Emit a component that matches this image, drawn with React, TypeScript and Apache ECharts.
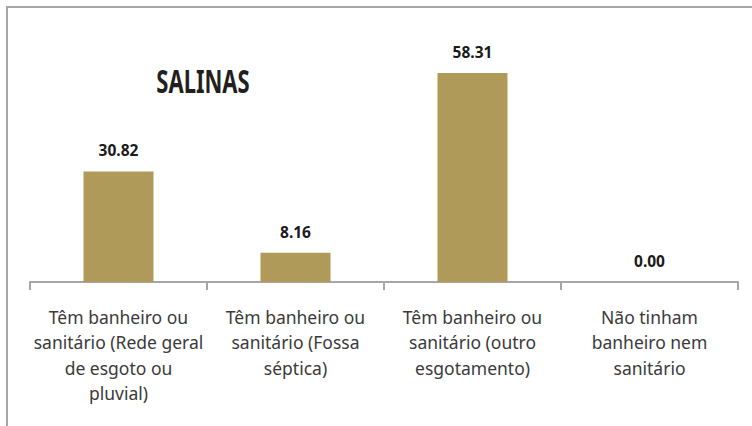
import React, { useEffect, useRef } from "react";
import * as echarts from "echarts";

const categories = [
  "Têm banheiro ou\nsanitário (Rede geral\nde esgoto ou\npluvial)",
  "Têm banheiro ou\nsanitário (Fossa\nséptica)",
  "Têm banheiro ou\nsanitário (outro\nesgotamento)",
  "Não tinham\nbanheiro nem\nsanitário",
];
const values = [30.82, 8.16, 58.31, 0.0];
const title = "SALINAS";

export default function App() {
  const ref = useRef<HTMLDivElement>(null);
  useEffect(() => {
    if (!ref.current) return;
    const chart = echarts.init(ref.current, undefined, { renderer: "svg" });
    chart.setOption({
      animation: false,
      backgroundColor: "#ffffff",
      grid: { left: 30, right: 14, top: 31, bottom: 144, containLabel: false },
      graphic: [
        {
          type: "rect",
          shape: { x: 7, y: 7, width: 800, height: 500 },
          style: { fill: "none", stroke: "#a6a6a6", lineWidth: 2 },
          silent: true,
        },
        {
          type: "text",
          x: 203,
          y: 80.5,
          scaleY: 1.5,
          style: {
            text: title,
            fontFamily: "Noto Sans",
            fontWeight: "bold",
            fontSize: 22,
            fill: "#231f20",
            textAlign: "center",
            textVerticalAlign: "middle",
          },
        },
      ],
      xAxis: {
        type: "category",
        data: categories,
        axisLine: { show: true, lineStyle: { color: "#a6a6a6", width: 2 } },
        axisTick: { show: true, length: 8, lineStyle: { color: "#a6a6a6", width: 2 } },
        axisLabel: {
          interval: 0,
          margin: 22,
          fontFamily: "Noto Sans",
          fontSize: 17.5,
          lineHeight: 25.5,
          color: "#3a3a3a",
          align: "center",
        },
      },
      yAxis: {
        type: "value",
        min: 0,
        max: 70,
        show: false,
        splitLine: { show: false },
      },
      series: [
        {
          type: "bar",
          data: values,
          barWidth: 70,
          itemStyle: { color: "#b09a5a" },
          label: {
            show: true,
            position: "top",
            distance: 13,
            fontFamily: "Noto Sans",
            fontWeight: "bold",
            fontSize: 15.5,
            color: "#1a1a1a",
            formatter: (p: any) => Number(p.value).toFixed(2),
          },
        },
      ],
    });
    return () => chart.dispose();
  }, []);
  return (
    <div
      ref={ref}
      style={{ position: "fixed", left: 0, top: 0, width: 752, height: 426 }}
    />
  );
}
